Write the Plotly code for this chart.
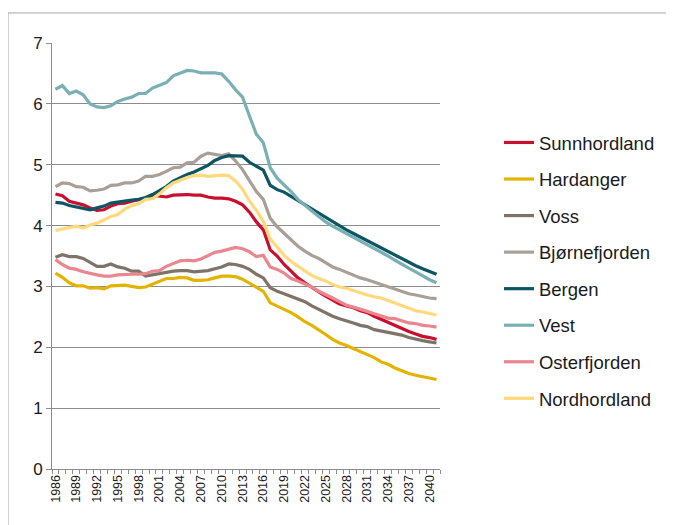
import plotly.graph_objects as go

years = list(range(1986, 2042))
tick_years = [1986, 1989, 1992, 1995, 1998, 2001, 2004, 2007, 2010, 2013,
              2016, 2019, 2022, 2025, 2028, 2031, 2034, 2037, 2040]

sunnhordland = [4.52, 4.49, 4.40, 4.37, 4.34, 4.29, 4.25, 4.26, 4.32, 4.36,
                4.37, 4.40, 4.43, 4.45, 4.50, 4.49, 4.47, 4.50, 4.51, 4.51,
                4.50, 4.50, 4.47, 4.45, 4.45, 4.44, 4.40, 4.34, 4.22, 4.06,
                3.93, 3.60, 3.50, 3.36, 3.25, 3.14, 3.06, 2.98, 2.91, 2.84,
                2.77, 2.71, 2.68, 2.65, 2.60, 2.57, 2.51, 2.46, 2.40, 2.35,
                2.30, 2.26, 2.22, 2.18, 2.16, 2.13]
hardanger = [3.22, 3.15, 3.06, 3.01, 3.01, 2.97, 2.98, 2.96, 3.01, 3.01,
             3.02, 3.00, 2.98, 2.99, 3.04, 3.08, 3.13, 3.13, 3.15, 3.14,
             3.10, 3.10, 3.11, 3.14, 3.17, 3.17, 3.16, 3.12, 3.05, 2.98,
             2.92, 2.73, 2.68, 2.63, 2.57, 2.50, 2.42, 2.36, 2.29, 2.21,
             2.13, 2.07, 2.03, 1.98, 1.93, 1.88, 1.83, 1.76, 1.72, 1.66,
             1.61, 1.57, 1.54, 1.52, 1.49, 1.47]
voss = [3.48, 3.52, 3.49, 3.49, 3.46, 3.39, 3.33, 3.33, 3.37, 3.32,
        3.30, 3.25, 3.25, 3.17, 3.19, 3.22, 3.24, 3.25, 3.26, 3.26,
        3.24, 3.25, 3.26, 3.29, 3.32, 3.37, 3.36, 3.33, 3.28, 3.20,
        3.14, 2.98, 2.92, 2.88, 2.84, 2.80, 2.75, 2.68, 2.62, 2.57,
        2.51, 2.47, 2.44, 2.40, 2.36, 2.34, 2.29, 2.27, 2.24, 2.22,
        2.20, 2.16, 2.13, 2.11, 2.09, 2.07]
bjornefjorden = [4.64, 4.70, 4.69, 4.64, 4.63, 4.57, 4.58, 4.60, 4.66, 4.67,
                 4.70, 4.70, 4.73, 4.81, 4.81, 4.84, 4.89, 4.95, 4.96, 5.03,
                 5.04, 5.14, 5.19, 5.17, 5.15, 5.18, 5.06, 4.92, 4.75, 4.56,
                 4.43, 4.12, 3.98, 3.87, 3.76, 3.66, 3.58, 3.51, 3.46, 3.39,
                 3.32, 3.28, 3.23, 3.18, 3.14, 3.11, 3.07, 3.03, 2.99, 2.95,
                 2.91, 2.88, 2.86, 2.83, 2.81, 2.80]
bergen = [4.38, 4.37, 4.33, 4.31, 4.29, 4.26, 4.29, 4.32, 4.37, 4.39,
          4.41, 4.42, 4.43, 4.46, 4.51, 4.57, 4.64, 4.73, 4.79, 4.84,
          4.88, 4.93, 4.99, 5.07, 5.12, 5.15, 5.15, 5.14, 5.04, 4.97,
          4.91, 4.66, 4.59, 4.55, 4.48, 4.42, 4.35, 4.27, 4.20, 4.13,
          4.06, 3.99, 3.93, 3.87, 3.81, 3.75, 3.69, 3.63, 3.57, 3.51,
          3.45, 3.39, 3.34, 3.29, 3.24, 3.20]
vest = [6.24, 6.30, 6.17, 6.21, 6.15, 6.00, 5.95, 5.94, 5.97, 6.04,
        6.08, 6.11, 6.17, 6.17, 6.26, 6.31, 6.35, 6.46, 6.50, 6.55,
        6.54, 6.51, 6.51, 6.51, 6.49, 6.37, 6.23, 6.11, 5.80, 5.50,
        5.36, 4.95, 4.78, 4.67, 4.56, 4.43, 4.33, 4.24, 4.15, 4.06,
        3.99, 3.93, 3.87, 3.81, 3.75, 3.69, 3.63, 3.57, 3.50, 3.43,
        3.36, 3.30, 3.24, 3.17, 3.11, 3.06]
osterfjorden = [3.44, 3.36, 3.30, 3.28, 3.24, 3.21, 3.19, 3.17, 3.17, 3.19,
                3.20, 3.20, 3.20, 3.21, 3.25, 3.26, 3.33, 3.37, 3.42, 3.43,
                3.42, 3.45, 3.51, 3.56, 3.58, 3.61, 3.64, 3.62, 3.57, 3.49,
                3.51, 3.32, 3.28, 3.22, 3.13, 3.09, 3.04, 2.99, 2.92, 2.87,
                2.81, 2.75, 2.69, 2.66, 2.63, 2.59, 2.55, 2.51, 2.48, 2.47,
                2.43, 2.40, 2.39, 2.36, 2.35, 2.33]
nordhordland = [3.92, 3.94, 3.96, 3.99, 3.96, 4.01, 4.04, 4.09, 4.15, 4.18,
                4.27, 4.33, 4.36, 4.43, 4.44, 4.52, 4.62, 4.70, 4.75, 4.79,
                4.82, 4.83, 4.81, 4.82, 4.83, 4.82, 4.73, 4.60, 4.40, 4.25,
                4.07, 3.78, 3.65, 3.51, 3.41, 3.33, 3.25, 3.18, 3.13, 3.09,
                3.03, 2.99, 2.97, 2.93, 2.89, 2.86, 2.83, 2.81, 2.77, 2.73,
                2.68, 2.64, 2.60, 2.58, 2.55, 2.53]

series_names = ["Sunnhordland", "Hardanger", "Voss", "Bjørnefjorden",
                "Bergen", "Vest", "Osterfjorden", "Nordhordland"]
series_values = [sunnhordland, hardanger, voss, bjornefjorden,
                 bergen, vest, osterfjorden, nordhordland]
series_colors = ["#C8102E", "#E2B400", "#7E7369", "#A89F97",
                 "#0E5563", "#7AB0B4", "#E9868E", "#FFD97C"]

FONT = "Arial, 'Liberation Sans', sans-serif"
GRID = "#8C8C8C"

fig = go.Figure()
for name, vals, col in zip(series_names, series_values, series_colors):
    fig.add_trace(go.Scatter(
        x=years, y=vals, name=name, mode="lines",
        line=dict(color=col, width=3.2),
        legendgroup=name,
    ))

fig.update_layout(
    width=666, height=517,
    margin=dict(l=44, r=234, t=35, b=56),
    paper_bgcolor="white", plot_bgcolor="white",
    font=dict(family=FONT, color="#1A1A1A"),
    showlegend=True,
    legend=dict(
        x=1.152, y=0.81, xanchor="left", yanchor="top",
        font=dict(size=18.5, family=FONT, color="#1A1A1A"),
        tracegroupgap=9.5, bgcolor="rgba(0,0,0,0)", borderwidth=0,
        traceorder="grouped",
    ),
    xaxis=dict(
        range=[1985.5, 2041.5],
        tickmode="array", tickvals=tick_years,
        ticktext=[str(t) for t in tick_years],
        tickangle=-90, tickfont=dict(size=12.5, family=FONT, color="#1A1A1A"),
        ticks="", showgrid=False, zeroline=False,
        showline=True, linecolor=GRID, linewidth=1,
        minor=dict(ticks="outside", tick0=1985.5, dtick=1, ticklen=4,
                   tickcolor=GRID, tickwidth=1, showgrid=False),
    ),
    yaxis=dict(
        range=[0, 7], dtick=1, tick0=0,
        tickfont=dict(size=17, family=FONT, color="#1A1A1A"),
        showgrid=True, gridcolor=GRID, gridwidth=1,
        zeroline=False, showline=True, linecolor=GRID, linewidth=1,
        ticks="outside", ticklen=5, tickcolor=GRID,
    ),
    shapes=[dict(type="rect", xref="paper", yref="paper",
                 x0=-0.1134, x1=1.7, y0=-0.3, y1=1.0705,
                 line=dict(color="#A6A6A6", width=1), layer="below")],
)

fig.write_html("out.html")
